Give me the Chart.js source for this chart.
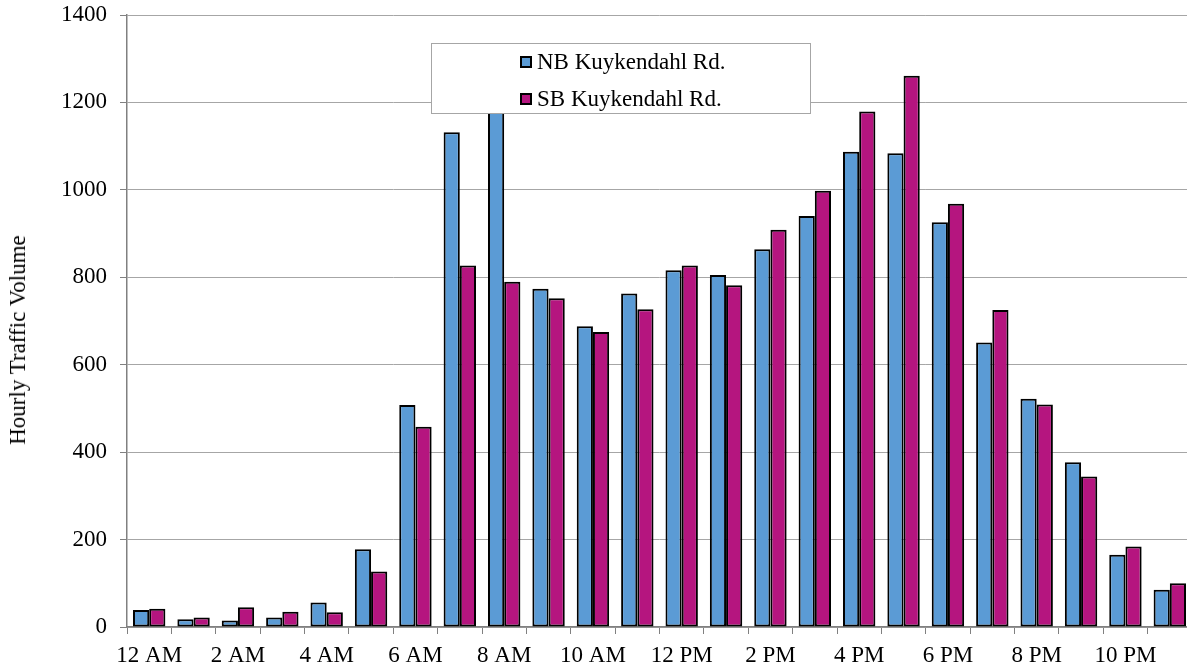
<!DOCTYPE html>
<html><head><meta charset="utf-8">
<script src="https://cdn.jsdelivr.net/npm/chart.js@4.4.1/dist/chart.umd.min.js"></script>
<style>
html,body{margin:0;padding:0;background:#fff;overflow:hidden;width:1187px;height:668px}
#wrap{position:absolute;left:0;top:0;width:1195px;height:668px}
#legend{position:absolute;left:431px;top:43px;width:378px;height:69px;border:1px solid #A6A6A6;background:#fff;font-family:"Liberation Serif","Times New Roman",serif;font-size:23px;color:#000}
#legend .inner{position:absolute;left:88px;top:0}
.row{height:36.6px;display:flex;align-items:center;white-space:nowrap}
.sw{box-sizing:border-box;width:12px;height:12px;border:2px solid #000;margin-right:5px}
#ytitle{position:absolute;left:18px;top:340px;transform:translate(-50%,-50%) rotate(-90deg);white-space:nowrap;font-family:"Liberation Serif","Times New Roman",serif;font-size:23px;color:#000}
</style></head>
<body>
<div id="wrap"><canvas id="c"></canvas></div>
<div id="legend"><div class="inner" id="legInner"></div></div>
<div id="ytitle"></div>
<script>
const hours = ['12 AM','1 AM','2 AM','3 AM','4 AM','5 AM','6 AM','7 AM','8 AM','9 AM','10 AM','11 AM',
               '12 PM','1 PM','2 PM','3 PM','4 PM','5 PM','6 PM','7 PM','8 PM','9 PM','10 PM','11 PM'];
const nbVolume = [39,18,15,22,56,178,508,1132,1250,774,688,763,816,805,864,940,1087,1084,926,651,522,377,165,85];
const sbVolume = [42,22,45,35,34,127,458,827,790,752,675,727,827,782,909,998,1179,1261,968,725,509,344,184,100];
const seriesNames = ['NB Kuykendahl Rd.','SB Kuykendahl Rd.'];
const seriesColors = ['#5B9BD5','#B5157F'];
const yAxisTitle = 'Hourly Traffic Volume';
const yMin = 0, yMax = 1400, yStep = 200;

const FONT = '"Liberation Serif","Times New Roman",serif';

document.getElementById('ytitle').textContent = yAxisTitle;

// HTML legend (drawn over the bars, like the original)
const li = document.getElementById('legInner');
seriesNames.forEach((n,i)=>{
  const r = document.createElement('div'); r.className='row';
  const s = document.createElement('div'); s.className='sw'; s.style.background=seriesColors[i];
  const t = document.createElement('span'); t.textContent=n;
  r.appendChild(s); r.appendChild(t); li.appendChild(r);
});

new Chart(document.getElementById('c'), {
  type:'bar',
  data:{
    labels:hours,
    datasets:[nbVolume, sbVolume].map((d,i)=>({
      label:seriesNames[i], data:d, backgroundColor:seriesColors[i],
      borderColor:'#000', borderWidth:2, borderSkipped:false,
      categoryPercentage:0.73, barPercentage:1
    }))
  },
  options:{
    responsive:true, maintainAspectRatio:false, animation:false,
    events:[],
    layout:{padding:{top:15,right:3,left:0,bottom:0}},
    plugins:{legend:{display:false},tooltip:{enabled:false}},
    scales:{
      x:{
        grid:{display:true,drawOnChartArea:false,drawTicks:true,tickLength:7,color:'#808080',offset:true},
        border:{display:true,color:'#808080',width:1.5},
        ticks:{autoSkip:false,maxRotation:0,minRotation:0,padding:8,color:'#000',
               font:{family:FONT,size:23},
               callback:(v,i)=> i%2===0 ? hours[i] : ''},
        afterFit:(s)=>{s.height=41;}
      },
      y:{
        min:yMin,max:yMax,
        ticks:{stepSize:yStep,padding:13,color:'#000',font:{family:FONT,size:23},
               callback:(v)=>String(v)},
        grid:{color:'#A6A6A6',tickLength:7,tickColor:'#808080'},
        border:{display:true,color:'#808080',width:1.5},
        afterFit:(s)=>{s.width=127;s.paddingTop=0;s.paddingBottom=0;}
      }
    }
  }
});
</script>
</body></html>
